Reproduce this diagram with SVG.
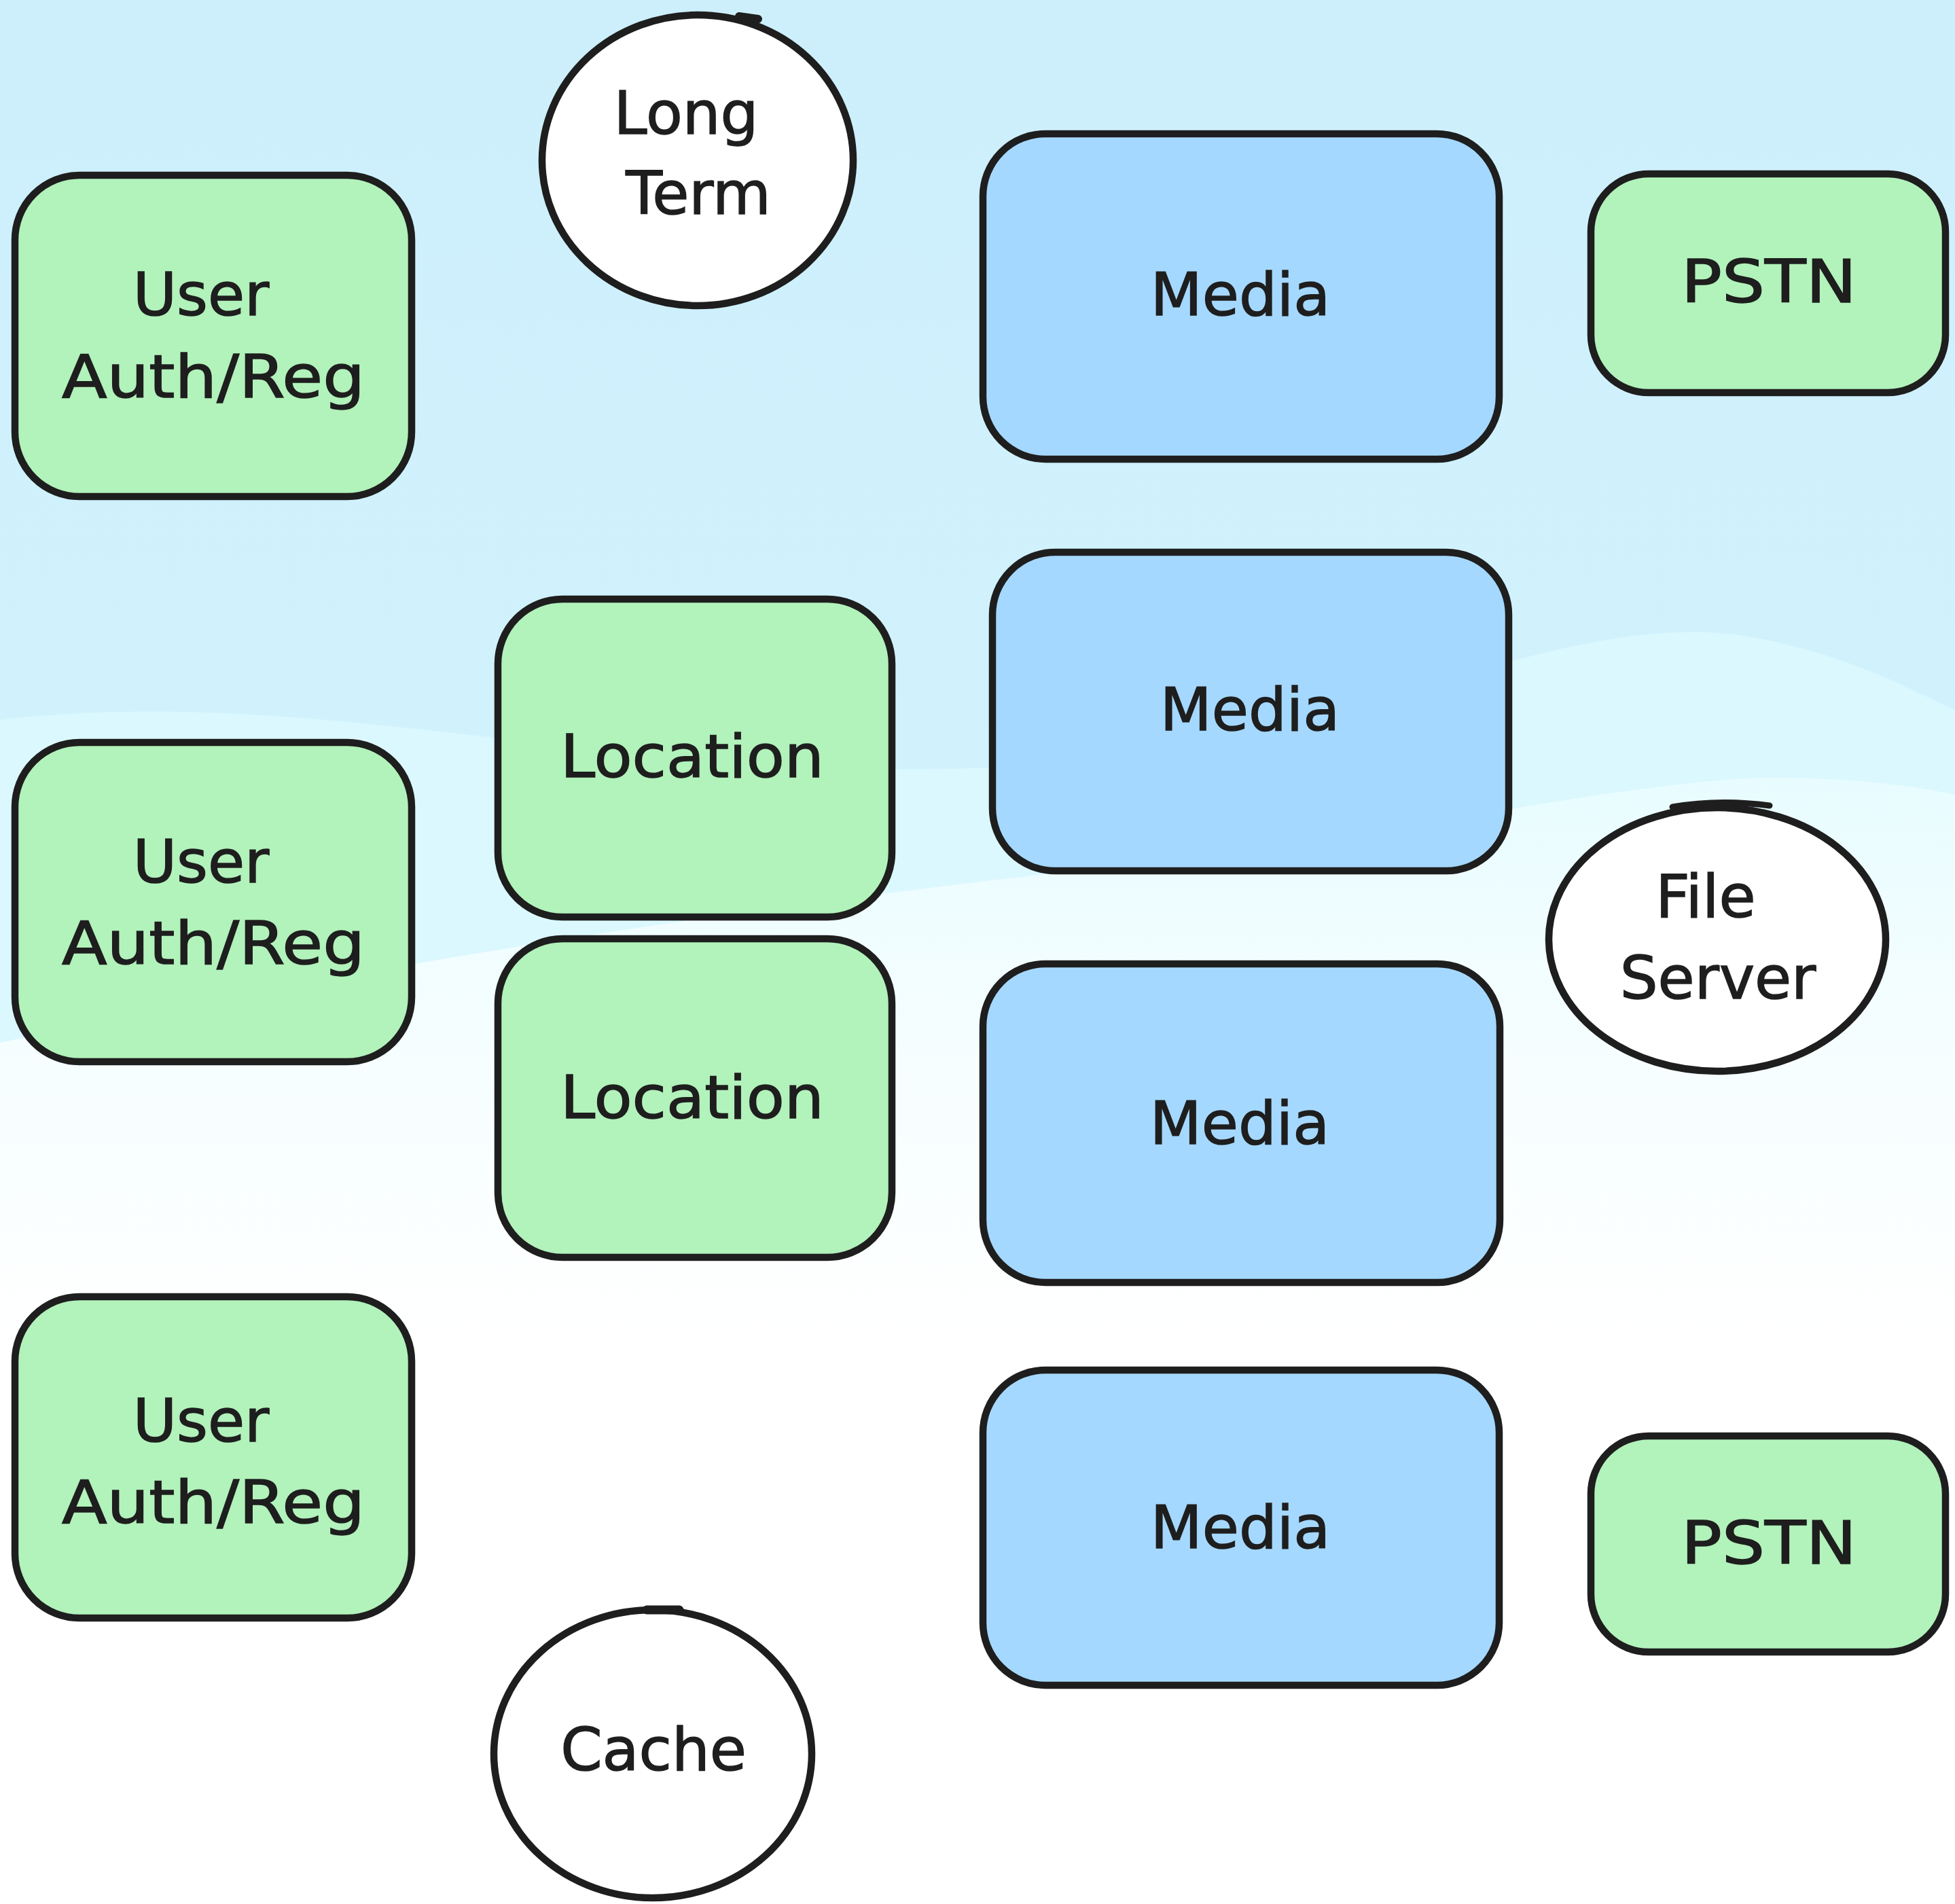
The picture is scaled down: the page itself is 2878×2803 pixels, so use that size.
<svg xmlns="http://www.w3.org/2000/svg" width="2878" height="2803" viewBox="0 0 2878 2803">
  <defs>
    <linearGradient id="bgTop" x1="0" y1="0" x2="0" y2="1">
      <stop offset="0" stop-color="#cdeffc"/>
      <stop offset="0.5" stop-color="#d2f3fd"/>
      <stop offset="1" stop-color="#d6f6fe"/>
    </linearGradient>
    <linearGradient id="bgLow" x1="0" y1="0" x2="0" y2="1">
      <stop offset="0" stop-color="#e8fcff"/>
      <stop offset="0.25" stop-color="#f6feff"/>
      <stop offset="0.5" stop-color="#ffffff"/>
      <stop offset="1" stop-color="#ffffff"/>
    </linearGradient>
    <style>
      .box { stroke: #1e1e1e; stroke-width: 10.5; stroke-linejoin: round; }
      .green { fill: #b2f2bb; }
      .blue { fill: #a5d8ff; }
      .circ { fill: #ffffff; stroke: #1e1e1e; stroke-width: 10.5; }
      .tick { fill: none; stroke: #1e1e1e; stroke-linecap: round; }
      .lbl { font-family: "DejaVu Sans", "Liberation Sans", sans-serif; font-size: 88px; fill: #1e1e1e; stroke: #1e1e1e; stroke-width: 1.5; text-anchor: middle; }
    </style>
  </defs>

  <g id="background">
    <rect x="0" y="0" width="2878" height="2803" fill="url(#bgTop)"/>
    <path d="M0,1060 C500,1000 1000,1180 1600,1120 C2000,1080 2300,900 2560,935 C2720,960 2820,1020 2878,1045 L2878,2803 L0,2803 Z" fill="#dbf8fe"/>
    <path d="M0,1535 C500,1430 1100,1330 1700,1270 C2100,1220 2400,1150 2600,1145 C2750,1145 2830,1160 2878,1170 L2878,2803 L0,2803 Z" fill="url(#bgLow)"/>
  </g>

  <g id="connectors"></g>

  <g id="auth1">
    <rect class="box green" x="22" y="258" width="584" height="473" rx="95"/>
    <text class="lbl" x="296" y="464">User</text>
    <text class="lbl" x="314" y="585" textLength="446" lengthAdjust="spacingAndGlyphs">Auth/Reg</text>
  </g>
  <g id="auth2">
    <rect class="box green" x="22" y="1093" width="584" height="470" rx="95"/>
    <text class="lbl" x="296" y="1299">User</text>
    <text class="lbl" x="314" y="1419" textLength="446" lengthAdjust="spacingAndGlyphs">Auth/Reg</text>
  </g>
  <g id="auth3">
    <rect class="box green" x="22" y="1909" width="584" height="473" rx="95"/>
    <text class="lbl" x="296" y="2122">User</text>
    <text class="lbl" x="314" y="2242" textLength="446" lengthAdjust="spacingAndGlyphs">Auth/Reg</text>
  </g>

  <g id="longterm">
    <ellipse class="circ" cx="1027" cy="236" rx="229" ry="214"/>
    <path class="tick" stroke-width="12" d="M1088,24 L1116,28"/>
    <text class="lbl" x="1010" y="197">Long</text>
    <text class="lbl" x="1028" y="315">Term</text>
  </g>

  <g id="location1">
    <rect class="box green" x="733" y="882" width="580" height="468" rx="95"/>
    <text class="lbl" x="1019" y="1144" textLength="388" lengthAdjust="spacingAndGlyphs">Location</text>
  </g>
  <g id="location2">
    <rect class="box green" x="733" y="1382" width="580" height="469" rx="95"/>
    <text class="lbl" x="1019" y="1646" textLength="388" lengthAdjust="spacingAndGlyphs">Location</text>
  </g>

  <g id="cache">
    <ellipse class="circ" cx="961" cy="2582" rx="234" ry="212"/>
    <path class="tick" stroke-width="13" d="M952,2370 L1000,2370"/>
    <text class="lbl" x="962" y="2606">Cache</text>
  </g>

  <g id="media1">
    <rect class="box blue" x="1447" y="197" width="760" height="479" rx="92"/>
    <text class="lbl" x="1826" y="464">Media</text>
  </g>
  <g id="media2">
    <rect class="box blue" x="1461" y="813" width="760" height="469" rx="92"/>
    <text class="lbl" x="1840" y="1075">Media</text>
  </g>
  <g id="media3">
    <rect class="box blue" x="1447" y="1419" width="761" height="469" rx="92"/>
    <text class="lbl" x="1825" y="1684">Media</text>
  </g>
  <g id="media4">
    <rect class="box blue" x="1447" y="2017" width="760" height="464" rx="92"/>
    <text class="lbl" x="1826" y="2279">Media</text>
  </g>

  <g id="pstn1">
    <rect class="box green" x="2342" y="256" width="522" height="322" rx="85"/>
    <text class="lbl" x="2604" y="445" textLength="258" lengthAdjust="spacingAndGlyphs">PSTN</text>
  </g>
  <g id="fileserver">
    <ellipse class="circ" cx="2528" cy="1383" rx="248" ry="194"/>
    <path class="tick" stroke-width="9" d="M2462,1188 Q2530,1176 2605,1186"/>
    <text class="lbl" x="2511" y="1350">File</text>
    <text class="lbl" x="2529" y="1470">Server</text>
  </g>
  <g id="pstn2">
    <rect class="box green" x="2342" y="2114" width="522" height="318" rx="85"/>
    <text class="lbl" x="2604" y="2302" textLength="258" lengthAdjust="spacingAndGlyphs">PSTN</text>
  </g>
</svg>
